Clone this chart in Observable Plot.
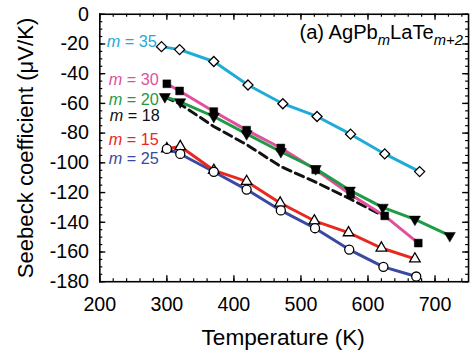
<!DOCTYPE html>
<html><head><meta charset="utf-8">
<script src="https://cdn.jsdelivr.net/npm/d3@7"></script>
<script src="https://cdn.jsdelivr.net/npm/@observablehq/plot@0.6"></script>
<style>
html,body{margin:0;padding:0;background:#fff;overflow:hidden;}
#chart{width:472px;height:362px;overflow:hidden;}
</style></head><body><div id="chart"></div>
<script>
// Temperature (K) and Seebeck coefficient (µV/K) per composition
const T35 = [292, 319, 370, 421, 473, 524, 574, 625, 677];
const S35 = [-21.8, -23.8, -31.8, -47.6, -60.2, -68.8, -80.7, -94.0, -105.9];
const T30 = [300, 319, 370, 419, 470, 522, 574, 625, 675];
const S30 = [-46.8, -51.6, -65.5, -78, -90, -104.7, -121.3, -135.7, -154];
const T20 = [297, 320, 370, 419, 470, 522, 573, 622, 670, 722];
const S20 = [-55.5, -59, -68.8, -80.5, -92.5, -104, -118.5, -130, -138, -149];
const T18 = [297, 320, 370, 420, 470, 522, 572, 620];
const S18 = [-55.6, -60.5, -75.5, -88, -102.5, -113, -124, -135];
const T15 = [300, 320, 370, 419, 469, 520, 571, 620, 670];
const S15 = [-90.5, -89, -105, -112.5, -127, -139, -147, -157.3, -164.6];
const T25 = [300, 320, 370, 419, 470, 521, 572, 623, 672];
const S25 = [-90.6, -94, -106, -118, -132, -144, -158.4, -170, -176.5];

const labels = ["m = 35", "m = 30", "m = 20", "m = 18", "m = 15", "m = 25"];
const labelColors = ["#1fabd8", "#e0509b", "#1f9a45", "#111111", "#e8271f", "#3a4aa0"];
const xTicks = [200, 300, 400, 500, 600, 700];
const yTicks = [0, -20, -40, -60, -80, -100, -120, -140, -160, -180];
const xLabel = "Temperature (K)";
const yLabel = "Seebeck coefficient (\u03bcV/K)";
const title = "(a) AgPb|m|LaTe|m+2";

const rows = (T, S) => T.map((t, i) => ({T: t, S: S[i]}));
const d35 = rows(T35, S35), d30 = rows(T30, S30), d20 = rows(T20, S20),
      d18 = rows(T18, S18), d15 = rows(T15, S15), d25 = rows(T25, S25);

const xMinor = d3.range(200, 751, 20);
const yMinor = d3.range(-180, 1, 5);

const triangleDown = {
  draw(context, size) {
    const y = Math.sqrt(size / (Math.sqrt(3) * 3));
    context.moveTo(0, y * 2);
    context.lineTo(-Math.sqrt(3) * y, -y);
    context.lineTo(Math.sqrt(3) * y, -y);
    context.closePath();
  }
};

const W = 480, H = 362, mL = 101, mR = 4, mT = 14, mB = 76;
const pw = W - mL - mR, ph = H - mT - mB;
const lw = 3;

const labelDy = [33, 72, 92, 109, 133, 152];
const labelDx = [7, 9, 9, 10, 9, 9];

const chart = Plot.plot({
  width: W, height: H,
  marginLeft: mL, marginRight: mR, marginTop: mT, marginBottom: mB,
  style: {fontFamily: "'Liberation Sans', Arial, Helvetica, sans-serif", background: "white", color: "black", overflow: "visible"},
  x: {domain: [200, 750], label: null},
  y: {domain: [-180, 0], label: null},
  marks: [
    // ticks (inward)
    Plot.tickX(xMinor, {x: d => d, insetTop: ph - 3, stroke: "black", strokeWidth: 1.2}),
    Plot.tickX(xMinor, {x: d => d, insetBottom: ph - 3, stroke: "black", strokeWidth: 1.2}),
    Plot.tickX(xTicks, {x: d => d, insetTop: ph - 6, stroke: "black", strokeWidth: 1.4}),
    Plot.tickX(xTicks, {x: d => d, insetBottom: ph - 6, stroke: "black", strokeWidth: 1.4}),
    Plot.tickY(yMinor, {y: d => d, insetRight: pw - 3, stroke: "black", strokeWidth: 1.2}),
    Plot.tickY(yMinor, {y: d => d, insetLeft: pw - 3, stroke: "black", strokeWidth: 1.2}),
    Plot.tickY(yTicks, {y: d => d, insetRight: pw - 6, stroke: "black", strokeWidth: 1.4}),
    Plot.tickY(yTicks, {y: d => d, insetLeft: pw - 6, stroke: "black", strokeWidth: 1.4}),
    Plot.frame({stroke: "black", strokeWidth: 1.6}),
    Plot.axisX(xTicks, {tickSize: 0, tickPadding: 16, fontSize: 20, label: null, tickFormat: d => String(d)}),
    Plot.axisY(yTicks, {tickSize: 0, tickPadding: 11, fontSize: 20, label: null, tickFormat: d => String(d)}),
    Plot.text([xLabel], {frameAnchor: "bottom", dy: 64, dx: -1, lineAnchor: "bottom", fontSize: 23, fill: "black", text: d => d}),
    Plot.text([yLabel], {frameAnchor: "left", textAnchor: "middle", lineAnchor: "middle", dx: -75, rotate: -90, fontSize: 22.5, fill: "black", text: d => d}),
    // lines
    Plot.line(d25, {x: "T", y: "S", stroke: labelColors[5], strokeWidth: lw}),
    Plot.line(d15, {x: "T", y: "S", stroke: labelColors[4], strokeWidth: lw}),
    Plot.line(d18, {x: "T", y: "S", stroke: labelColors[3], strokeWidth: lw, strokeDasharray: "9,5"}),
    Plot.line(d30, {x: "T", y: "S", stroke: labelColors[1], strokeWidth: lw}),
    Plot.line(d20, {x: "T", y: "S", stroke: labelColors[2], strokeWidth: lw}),
    Plot.line(d35, {x: "T", y: "S", stroke: labelColors[0], strokeWidth: lw}),
    // markers
    Plot.dot(d35, {x: "T", y: "S", symbol: "diamond2", r: 4.6, fill: "white", stroke: "black", strokeWidth: 1.3}),
    Plot.dot(d30, {x: "T", y: "S", symbol: "square", r: 4.5, fill: "black", stroke: "black", strokeWidth: 0.5}),
    Plot.dot(d20, {x: "T", y: "S", symbol: triangleDown, r: 4.2, fill: "black", stroke: "black", strokeWidth: 0.5}),
    Plot.dot(d15, {x: "T", y: "S", symbol: "triangle", r: 4.0, fill: "white", stroke: "black", strokeWidth: 1.3}),
    Plot.dot(d25, {x: "T", y: "S", symbol: "circle", r: 4.6, fill: "white", stroke: "black", strokeWidth: 1.3}),
    // series labels
    Plot.text(labels, {frameAnchor: "top-left", textAnchor: "start", lineAnchor: "bottom",
      fontSize: 16.5, text: d => d,
      fill: (d, i) => labelColors[labels.indexOf(d)]}),
    Plot.text([title], {frameAnchor: "top-left", textAnchor: "start", lineAnchor: "bottom", dx: 203, dy: 25.5, fontSize: 20.5, fill: "black", text: d => d})
  ]
});

// position series labels and apply italics
const svg = chart;
svg.querySelectorAll("text").forEach(t => {
  const s = t.textContent;
  const li = labels.indexOf(s);
  if (li >= 0) {
    const tr = t.getAttribute("transform") || "";
    t.setAttribute("transform", tr + ` translate(${labelDx[li]},${labelDy[li]})`);
    const rest = s.slice(1);
    t.textContent = "";
    const a = document.createElementNS("http://www.w3.org/2000/svg", "tspan");
    a.setAttribute("font-style", "italic");
    a.textContent = "m";
    t.appendChild(a);
    t.appendChild(document.createTextNode(rest));
  } else if (s === title) {
    const parts = s.split("|");
    t.textContent = "";
    parts.forEach((p, i) => {
      const sp = document.createElementNS("http://www.w3.org/2000/svg", "tspan");
      sp.textContent = p;
      if (i % 2 === 1) {
        sp.setAttribute("font-style", "italic");
        sp.setAttribute("font-size", "15");
        sp.setAttribute("dy", "6");
      } else if (i > 0) {
        sp.setAttribute("dy", "-6");
      }
      t.appendChild(sp);
    });
  }
});
document.getElementById("chart").appendChild(chart);
</script></body></html>
